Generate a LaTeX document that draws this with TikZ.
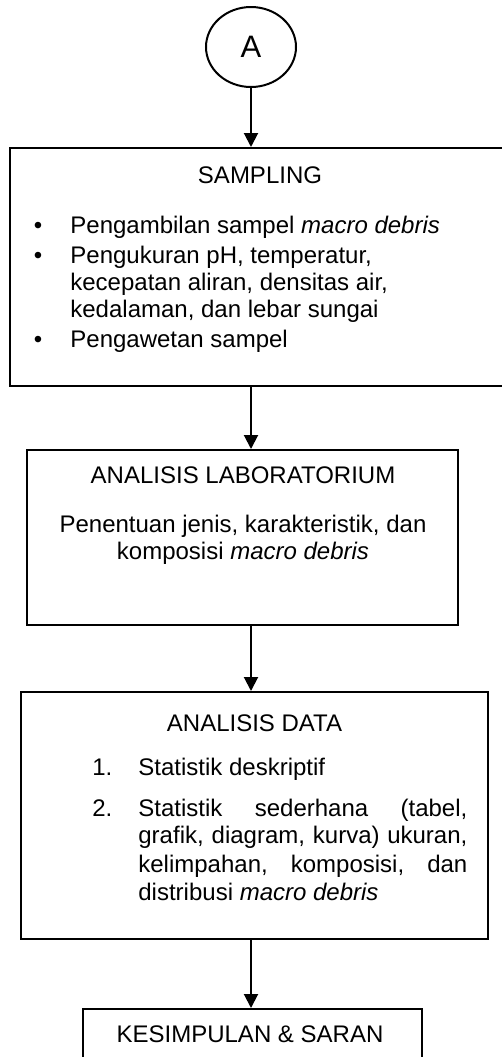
\documentclass[tikz,border=0pt]{standalone}
\usepackage{fontspec}
\setmainfont{Liberation Sans}
\usetikzlibrary{shapes.geometric,arrows.meta}
\begin{document}
\begin{tikzpicture}[x=0.5pt,y=-0.5pt,
  box/.style={draw, line width=1pt, rectangle, inner sep=0pt},
  flow/.style={line width=1pt, -{Triangle[length=7pt,width=7pt]}},
  txt/.style={font=\fontsize{12}{14}\selectfont, inner sep=0pt, anchor=base},
  txtl/.style={txt, anchor=base west}]
\useasboundingbox (0,0) rectangle (502,1057);
\clip (0,0) rectangle (502,1057);
% connector node
\node[draw, ellipse, line width=1pt, minimum width=45pt, minimum height=40pt, inner sep=0pt,
  font=\fontsize{15.5}{17}\selectfont] (a) at (251,47) {A};
% boxes
\node[box, minimum width=250pt, minimum height=119pt] (samp) at (260,267) {};
\node[box, minimum width=215.5pt, minimum height=87.5pt] (lab) at (242.5,537.5) {};
\node[box, minimum width=233.5pt, minimum height=123.5pt] (data) at (254.5,815.5) {};
\node[box, minimum width=169.5pt, minimum height=35.5pt] (kes) at (252.5,1044.5) {};
% connectors
\draw[flow] (a.south) -- (a.south |- samp.north);
\draw[flow] (a.south |- samp.south) -- (a.south |- lab.north);
\draw[flow] (a.south |- lab.south) -- (a.south |- data.north);
\draw[flow] (a.south |- data.south) -- (a.south |- kes.north);
% SAMPLING text
\node[txt] (t1) at (260,183) {SAMPLING};
\node[txt] (b1) at (38,233) {\textbullet};
\node[txtl] (s1) at (70,233) {Pengambilan sampel \textit{macro debris}};
\node[txt] (b2) at (38,263) {\textbullet};
\node[txtl] (s2) at (70,263) {Pengukuran pH, temperatur,};
\node[txtl] (s3) at (70,290) {kecepatan aliran, densitas air,};
\node[txtl] (s4) at (70,317) {kedalaman, dan lebar sungai};
\node[txt] (b3) at (38,347) {\textbullet};
\node[txtl] (s5) at (70,347) {Pengawetan sampel};
% LAB text
\node[txt] (t2) at (243,483) {ANALISIS LABORATORIUM};
\node[txt] (l1) at (243,532) {Penentuan jenis, karakteristik, dan};
\node[txt] (l2) at (243,559) {komposisi \textit{macro debris}};
% DATA text
\node[txt] (t3) at (254.5,731) {ANALISIS DATA};
\node[txtl] (n1) at (92,775) {1.};
\node[txtl] (d1) at (138,775) {Statistik deskriptif};
\node[txtl] (n2) at (92,816) {2.};
\node[txtl] (d2) at (138,816) {\makebox[164.5pt][s]{Statistik sederhana (tabel,}};
\node[txtl] (d3) at (138,843) {\makebox[164.5pt][s]{grafik, diagram, kurva) ukuran,}};
\node[txtl] (d4) at (138,872) {\makebox[164.5pt][s]{kelimpahan, komposisi, dan}};
\node[txtl] (d5) at (138,900) {distribusi \textit{macro debris}};
% KESIMPULAN text
\node[txt] (t4) at (250,1042) {KESIMPULAN \& SARAN};
\end{tikzpicture}
\end{document}
